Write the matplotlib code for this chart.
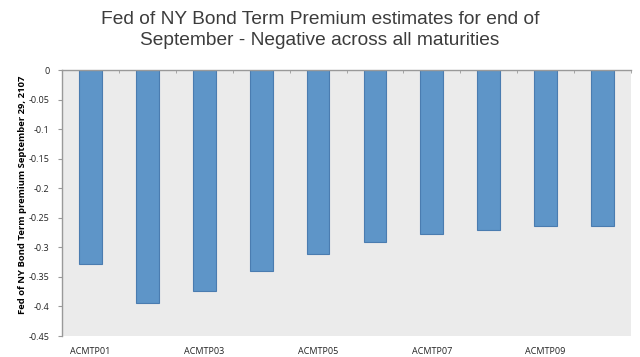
import numpy as np
import matplotlib
matplotlib.use('Agg')
from matplotlib import pyplot as plt
from matplotlib.ticker import FixedLocator

# term premium estimates
maturities = ['ACMTP01', 'ACMTP02', 'ACMTP03', 'ACMTP04', 'ACMTP05',
              'ACMTP06', 'ACMTP07', 'ACMTP08', 'ACMTP09', 'ACMTP10']
premium = [-0.329, -0.394, -0.374, -0.340, -0.311,
           -0.291, -0.278, -0.270, -0.264, -0.264]
yticks = [0, -0.05, -0.1, -0.15, -0.2, -0.25, -0.3, -0.35, -0.4, -0.45]
ytick_labels = ['0', '-0.05', '-0.1', '-0.15', '-0.2', '-0.25', '-0.3',
                '-0.35', '-0.4', '-0.45']

fig = plt.figure(figsize=(6.4, 3.57), dpi=100)
ax = fig.add_axes([62/640, 1 - 336/357, (631-62)/640, (336-70)/357])
ax.set_facecolor('#ebebeb')

x = np.arange(len(maturities))
ax.bar(x, premium, width=0.4, color='#5e95c8', edgecolor='#4a7cb0',
       linewidth=0.8, zorder=2)

ax.set_xlim(-0.5, len(maturities) - 0.5)
ax.set_ylim(-0.45, 0)

# only every other category gets a label, like the original
ax.set_xticks(x[::2])
ax.set_xticklabels(maturities[::2], fontsize=6.5, family='Open Sans',
                   color='#222222')
ax.xaxis.set_minor_locator(FixedLocator(np.arange(-0.5, len(maturities), 1)))
ax.tick_params(axis='x', which='major', length=0, pad=8)
ax.tick_params(axis='x', which='minor', top=True, bottom=False,
               direction='in', length=2.5, color='#999999')

ax.set_yticks(yticks)
ax.set_yticklabels(ytick_labels, fontsize=6.5, family='Open Sans',
                   color='#222222')
ax.tick_params(axis='y', length=3, color='#999999', pad=6)

for side in ['right', 'bottom']:
    ax.spines[side].set_visible(False)
for side in ['left', 'top']:
    ax.spines[side].set_color('#999999')
    ax.spines[side].set_linewidth(1.0)

ax.set_ylabel('Fed of NY Bond Term premium September 29, 2107',
              fontsize=6.8, fontweight='bold', family='Open Sans')
ax.yaxis.set_label_coords(-0.062, 0.53)

fig.text(0.5, 0.968, 'Fed of NY Bond Term Premium estimates for end of\n'
         'September - Negative across all maturities',
         ha='center', va='top', fontsize=13.8, family='Liberation Sans',
         color='#3c3c3c', linespacing=1.3)

fig.savefig('out.png', dpi=100, facecolor='white')
